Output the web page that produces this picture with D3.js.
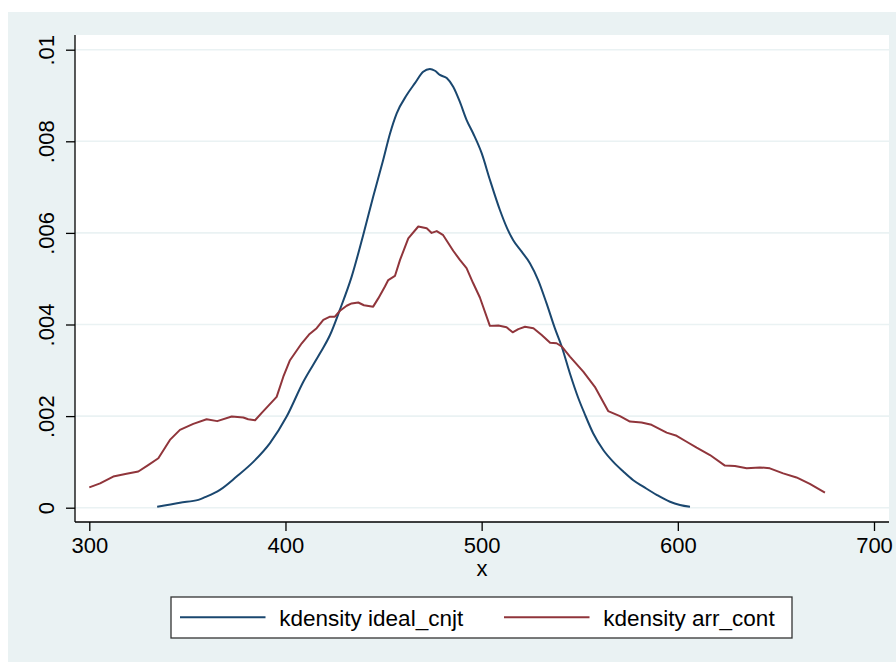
<!DOCTYPE html>
<html>
<head>
<meta charset="utf-8">
<script src="https://cdn.jsdelivr.net/npm/d3@7"></script>
<style>
  html, body { margin: 0; padding: 0; background: #ffffff; }
  svg { display: block; }
  text { font-family: "Liberation Sans", Arial, sans-serif; fill: #000; }
</style>
</head>
<body>
<script>
// Kernel density estimates of two score variables
const idealX = [334.6, 346.2, 355.6, 359, 366.6, 375.1, 383.6, 392.1, 400.6, 409.1, 417.6, 422.7, 427.8, 433.7, 439.6, 444.7, 449.8, 453.3, 456.7, 461.8, 466, 470.2, 473.6, 476.2, 478.7, 482.2, 485.5, 488.9, 492.3, 495.7, 500, 504.2, 509.3, 513, 516.1, 520.4, 524.6, 528.8, 533.1, 537.3, 540.8, 545, 549.3, 552.5, 556.9, 562, 567.1, 572.2, 577.3, 582.4, 589.2, 596, 601.1, 606.2];
const idealY = [0.00002, 0.00011, 0.00017, 0.00023, 0.00039, 0.00068, 0.0010, 0.00141, 0.00199, 0.00275, 0.00337, 0.00377, 0.00433, 0.00504, 0.00595, 0.00679, 0.00759, 0.00817, 0.00861, 0.00901, 0.00927, 0.00952, 0.00958, 0.00954, 0.00945, 0.00938, 0.00919, 0.00886, 0.00847, 0.00817, 0.00774, 0.00716, 0.00650, 0.00610, 0.00584, 0.00559, 0.00534, 0.00497, 0.00446, 0.00392, 0.00352, 0.00293, 0.00239, 0.00205, 0.00162, 0.00126, 0.0010, 0.00079, 0.00060, 0.00046, 0.00028, 0.00013, 0.00006, 0.00002];

const arrX = [300, 305.5, 312.2, 319, 325, 330, 335.2, 341.1, 346.2, 353, 359.8, 365.2, 372.6, 378.5, 381, 384.5, 387.9, 395.5, 398.9, 402.3, 408.3, 412, 415.9, 419.3, 422.7, 425.2, 427.8, 431.2, 433.7, 437.1, 440, 444.7, 447.3, 450.7, 452.4, 455.8, 458.4, 462.6, 467.7, 472, 474.5, 477.1, 480.4, 485.5, 488.9, 492.3, 495.7, 499.1, 504.2, 508.5, 512.7, 515.8, 518.7, 522.1, 526.4, 530.6, 534.9, 538.2, 540.8, 545, 551.8, 557.7, 564.5, 570.5, 575.6, 581.5, 586.6, 594.3, 599.4, 604.5, 609.6, 616.4, 624, 629.1, 635.1, 641.8, 646.9, 653.7, 660.5, 667.3, 675];
const arrY = [0.000445, 0.00053, 0.00068, 0.00074, 0.00079, 0.00093, 0.00108, 0.00148, 0.0017, 0.00183, 0.00193, 0.00189, 0.00199, 0.00197, 0.00193, 0.00191, 0.00207, 0.00242, 0.00286, 0.00322, 0.00359, 0.00378, 0.00392, 0.0041, 0.00417, 0.00417, 0.0043, 0.00441, 0.00446, 0.00448, 0.00442, 0.00439, 0.00457, 0.00483, 0.00497, 0.00506, 0.00541, 0.00588, 0.00614, 0.0061, 0.0060, 0.00604, 0.00595, 0.00561, 0.00541, 0.00523, 0.0049, 0.00459, 0.00397, 0.00398, 0.00394, 0.00383, 0.0039, 0.00395, 0.00392, 0.00377, 0.0036, 0.00359, 0.00352, 0.0033, 0.00297, 0.00264, 0.00211, 0.0020, 0.00188, 0.00186, 0.00181, 0.00164, 0.00157, 0.00144, 0.00131, 0.00115, 0.00092, 0.00091, 0.00086, 0.00088, 0.00086, 0.00075, 0.00066, 0.00052, 0.00033];

const xTicks = [300, 400, 500, 600, 700];
const yTicks = [0, 0.002, 0.004, 0.006, 0.008, 0.01];
const yTickLabels = ["0", ".002", ".004", ".006", ".008", ".01"];
const legendLabels = ["kdensity ideal_cnjt", "kdensity arr_cont"];
const xTitle = "x";

const W = 896, H = 662;
const region = { left: 75, right: 889, top: 35, bottom: 522 };
const colors = ["#1a476f", "#90353b"];
const bg = "#eaf2f3";

const svg = d3.select("body").append("svg").attr("width", W).attr("height", H);

// graph background and plot region
svg.append("rect").attr("x", 8).attr("y", 12).attr("width", W - 8).attr("height", H - 12).attr("fill", bg);
svg.append("rect").attr("x", region.left).attr("y", region.top)
  .attr("width", region.right - region.left).attr("height", region.bottom - region.top).attr("fill", "#fff");

const x = d3.scaleLinear().domain([300, 700]).range([89.3, 874]);
const y = d3.scaleLinear().domain([0, 0.01]).range([507.7, 49.7]);

// horizontal grid
svg.append("g").selectAll("line").data(yTicks).join("line")
  .attr("x1", region.left).attr("x2", region.right)
  .attr("y1", d => y(d)).attr("y2", d => y(d))
  .attr("stroke", bg).attr("stroke-width", 1.6);

// curves
const series = [
  { xs: idealX, ys: idealY, color: colors[0], curve: d3.curveMonotoneX },
  { xs: arrX, ys: arrY, color: colors[1], curve: d3.curveLinear }
];
series.forEach(s => {
  const pts = s.xs.map((v, i) => [v, s.ys[i]]);
  svg.append("path").datum(pts)
    .attr("fill", "none").attr("stroke", s.color).attr("stroke-width", 2)
    .attr("stroke-linejoin", "round")
    .attr("d", d3.line().x(d => x(d[0])).y(d => y(d[1])).curve(s.curve));
});

// y axis
const yAxis = svg.append("g").attr("transform", `translate(${region.left},0)`)
  .call(d3.axisLeft(y).tickValues(yTicks).tickSize(9).tickSizeOuter(0)
    .tickFormat((d, i) => yTickLabels[i]));
yAxis.select(".domain").remove();
yAxis.selectAll(".tick line").attr("stroke", "#000").attr("stroke-width", 1.3);
yAxis.selectAll(".tick text")
  .attr("transform", "rotate(-90)").attr("x", 0).attr("y", -21).attr("dy", 0)
  .attr("text-anchor", "middle").style("font-size", "22px")
  .style("font-family", "'Liberation Sans', Arial, sans-serif");
svg.append("line").attr("x1", region.left).attr("x2", region.left)
  .attr("y1", region.top).attr("y2", region.bottom).attr("stroke", "#000").attr("stroke-width", 1.3);

// x axis
const xAxis = svg.append("g").attr("transform", `translate(0,${region.bottom})`)
  .call(d3.axisBottom(x).tickValues(xTicks).tickSize(9).tickSizeOuter(0).tickFormat(d3.format("d")));
xAxis.select(".domain").remove();
xAxis.selectAll(".tick line").attr("stroke", "#000").attr("stroke-width", 1.3);
xAxis.selectAll(".tick text").attr("y", 31).attr("dy", 0)
  .style("font-size", "22px").style("font-family", "'Liberation Sans', Arial, sans-serif");
svg.append("line").attr("x1", region.left).attr("x2", region.right)
  .attr("y1", region.bottom).attr("y2", region.bottom).attr("stroke", "#000").attr("stroke-width", 1.3);

// axis title
svg.append("text").attr("x", (region.left + region.right) / 2).attr("y", 576)
  .attr("text-anchor", "middle").style("font-size", "22px").text(xTitle);

// legend
const lg = svg.append("g");
lg.append("rect").attr("x", 171).attr("y", 597).attr("width", 621).attr("height", 41)
  .attr("fill", "#fff").attr("stroke", "#333").attr("stroke-width", 1.3);
const entryX = [180, 504];
legendLabels.forEach((lab, i) => {
  lg.append("line").attr("x1", entryX[i]).attr("x2", entryX[i] + 85.5)
    .attr("y1", 617.3).attr("y2", 617.3).attr("stroke", colors[i]).attr("stroke-width", 2);
  lg.append("text").attr("x", entryX[i] + 99.3).attr("y", 626)
    .style("font-size", "22.5px").text(lab);
});
</script>
</body>
</html>
